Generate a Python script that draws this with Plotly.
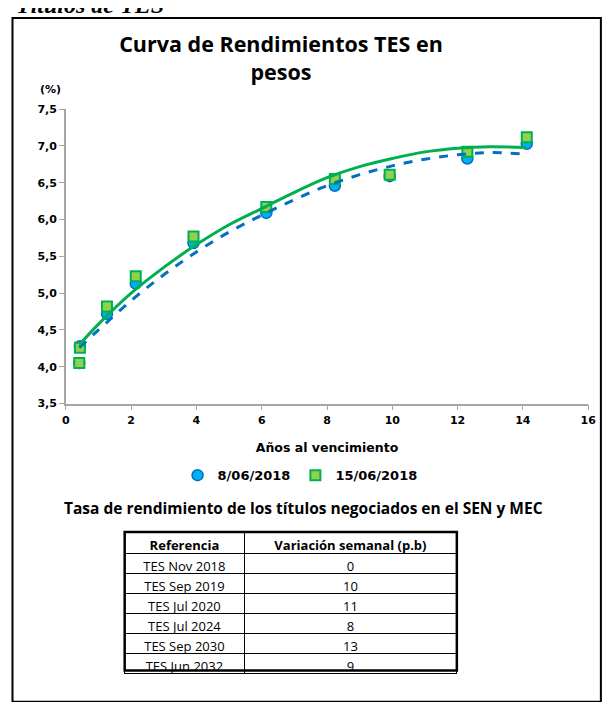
import plotly.graph_objects as go

# datos
plazo = [0.41, 0.43, 1.26, 2.14, 3.91, 6.14, 8.24, 9.92, 12.3, 14.12]
tasa_0806 = [4.05, 4.28, 4.72, 5.13, 5.68, 6.09, 6.46, 6.59, 6.83, 7.03]
tasa_1506 = [4.05, 4.26, 4.82, 5.23, 5.77, 6.17, 6.55, 6.61, 6.92, 7.12]

# lineas de tendencia
tend_x = [0.41, 1, 2, 3, 4, 5, 6, 7, 8, 9, 10, 11, 12, 13, 14.1]
tend_0806 = [4.26, 4.50, 4.90, 5.25, 5.56, 5.83, 6.06, 6.27, 6.46, 6.61, 6.73, 6.82, 6.88, 6.91, 6.89]
tend_1506 = [4.30, 4.58, 5.00, 5.35, 5.66, 5.93, 6.15, 6.37, 6.57, 6.72, 6.83, 6.92, 6.97, 6.99, 6.98]

referencia = ['TES Nov 2018', 'TES Sep 2019', 'TES Jul 2020', 'TES Jul 2024', 'TES Sep 2030', 'TES Jun 2032']
variacion = [0, 10, 11, 8, 13, 9]

# la pagina tiene 8px de margen en body: figura de 595x694
W, H = 595, 694
def px(x):
    return (x - 8) / W
def py(y):
    return 1 - (y - 8) / H

fnt = 'DejaVu Sans'
bold = dict(family=fnt, size=11, color='black', weight='bold')

fig = go.Figure()
fig.add_trace(go.Scatter(x=plazo, y=tasa_0806, mode='markers', name='8/06/2018',
                         marker=dict(symbol='circle', size=11, color='#00B0F0',
                                     line=dict(color='#0070C0', width=1.5))))
fig.add_trace(go.Scatter(x=plazo, y=tasa_1506, mode='markers', name='15/06/2018',
                         marker=dict(symbol='square', size=10, color='#92D050',
                                     line=dict(color='#00B050', width=2))))
fig.add_trace(go.Scatter(x=tend_x, y=tend_0806, mode='lines', showlegend=False,
                         line=dict(color='#0070C0', width=3, dash='dash', shape='spline')))
fig.add_trace(go.Scatter(x=tend_x, y=tend_1506, mode='lines', showlegend=False,
                         line=dict(color='#00B050', width=3, shape='spline')))

fig.add_trace(go.Table(
    domain=dict(x=[px(123), px(462)], y=[max(0, py(700)), py(536)]),
    columnwidth=[122, 217],
    header=dict(values=['Referencia', 'Variación semanal (p.b)'],
                height=21, align='center', fill_color='white',
                line=dict(color='black', width=1),
                font=dict(family='Open Sans', size=13, color='black', weight='bold')),
    cells=dict(values=[referencia, variacion], height=20, align='center',
               fill_color='white', line=dict(color='black', width=1),
               font=dict(family='Open Sans', size=13, color='black'))))

fig.update_layout(
    width=W, height=H, margin=dict(l=0, r=0, t=0, b=0),
    paper_bgcolor='white', plot_bgcolor='white',
    separators=',.',
    font=dict(family=fnt, color='black'),
    xaxis=dict(domain=[px(63), px(596)], range=[0, 16], dtick=2, showgrid=False, zeroline=False,
               showline=True, linecolor='#A6A6A6', linewidth=1.5, ticks='outside', ticklen=5,
               tickcolor='#A6A6A6', tickfont=bold, ticklabeloverflow='allow',
               title=dict(text='Años al vencimiento',
                          font=dict(family=fnt, size=12.5, weight='bold'), standoff=18)),
    yaxis=dict(domain=[py(405), py(105)], range=[3.5, 7.5], dtick=0.5, tickformat='.1f',
               showgrid=False, zeroline=False, showline=True, linecolor='#A6A6A6', linewidth=1.5,
               ticks='outside', ticklen=5, tickcolor='#A6A6A6', tickfont=bold),
    legend=dict(orientation='h', x=px(302), xanchor='center', y=py(478), yanchor='middle',
                font=dict(family=fnt, size=13, color='black', weight='bold'), itemwidth=30,
                bgcolor='rgba(0,0,0,0)'),
    title=dict(text='<b>Curva de Rendimientos TES en<br>pesos</b>', x=px(281), xanchor='center',
               y=py(52), yanchor='middle', font=dict(family='Open Sans', size=21.5, color='black')),
)

fig.add_annotation(text='<b>(%)</b>', xref='paper', yref='paper', x=px(47), y=py(85),
                   xanchor='center', yanchor='middle', showarrow=False, font=dict(family=fnt, size=11))
fig.add_annotation(text='<b>Tasa de rendimiento de los títulos negociados en el SEN y MEC</b>',
                   xref='paper', yref='paper', x=px(305), y=py(511), xanchor='center', yanchor='middle',
                   showarrow=False, font=dict(family='Open Sans', size=15.5))
fig.add_annotation(text='<b><i>Títulos de TES</i></b>', xref='paper', yref='paper',
                   x=px(165), xanchor='right', y=py(14), yanchor='bottom', showarrow=False,
                   font=dict(family='Liberation Serif', size=24))

# recuadro (sin salirse por la derecha ni por abajo de la pagina)
fig.add_shape(type='rect', xref='paper', yref='paper', x0=px(8.5), x1=px(609), y0=py(709), y1=py(12),
              line=dict(color='black', width=2))
fig.add_shape(type='rect', xref='paper', yref='paper', x0=px(123), x1=px(462), y0=py(677), y1=py(536),
              line=dict(color='black', width=2.5))

fig.write_html("out.html")
